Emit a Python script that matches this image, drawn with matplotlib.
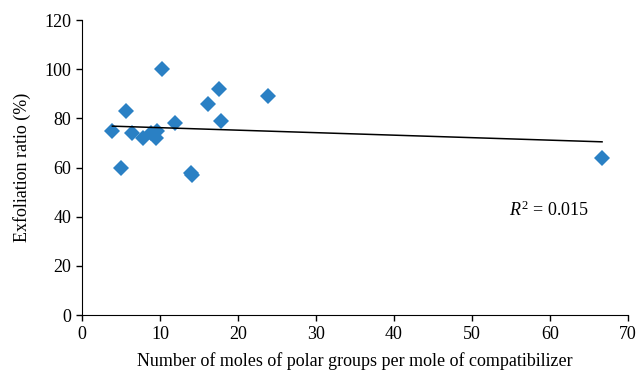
import numpy as np
import matplotlib
matplotlib.use("Agg")
import matplotlib.pyplot as plt

plt.rcParams['font.family'] = ['Liberation Serif', 'DejaVu Serif']
plt.rcParams['mathtext.fontset'] = 'custom'
plt.rcParams['mathtext.rm'] = 'Liberation Serif'
plt.rcParams['mathtext.it'] = 'Liberation Serif:italic'

# moles of polar groups per mole of compatibilizer vs exfoliation ratio (%)
polar_groups = [3.9, 5.0, 5.7, 6.4, 7.8, 8.8, 9.5, 9.6, 10.2, 11.9,
                14.0, 14.1, 16.2, 17.6, 17.8, 23.9, 66.7]
exfoliation = [75, 60, 83, 74, 72, 74, 72, 75, 100, 78,
               58, 57, 86, 92, 79, 89, 64]
r2_label = "0.015"

x = np.array(polar_groups)
y = np.array(exfoliation)

fig = plt.figure(figsize=(6.38, 3.72), dpi=100)
ax = fig.add_axes([0.1285, 0.153, 0.8555, 0.793])

ax.plot(x, y, linestyle='none', marker='D', markersize=8.5,
        color='#2A80C4', markeredgewidth=0)

# linear trend line
slope, intercept = np.polyfit(x, y, 1)
xs = np.array([x.min(), x.max()])
ax.plot(xs, slope * xs + intercept, color='black', linewidth=1.1)

ax.text(54.8, 40.5, r'$R^2$' + ' = ' + r2_label, fontsize=13)

ax.set_xlim(0, 70)
ax.set_ylim(0, 120)
ax.set_xticks(np.arange(0, 71, 10))
ax.set_yticks(np.arange(0, 121, 20))
ax.spines['top'].set_visible(False)
ax.spines['right'].set_visible(False)
ax.tick_params(direction='out', length=4, labelsize=13, width=1)
ax.set_xlabel('Number of moles of polar groups per mole of compatibilizer', fontsize=13, labelpad=7)
ax.set_ylabel('Exfoliation ratio (%)', fontsize=13, labelpad=10)

fig.savefig('out.png', dpi=100)
